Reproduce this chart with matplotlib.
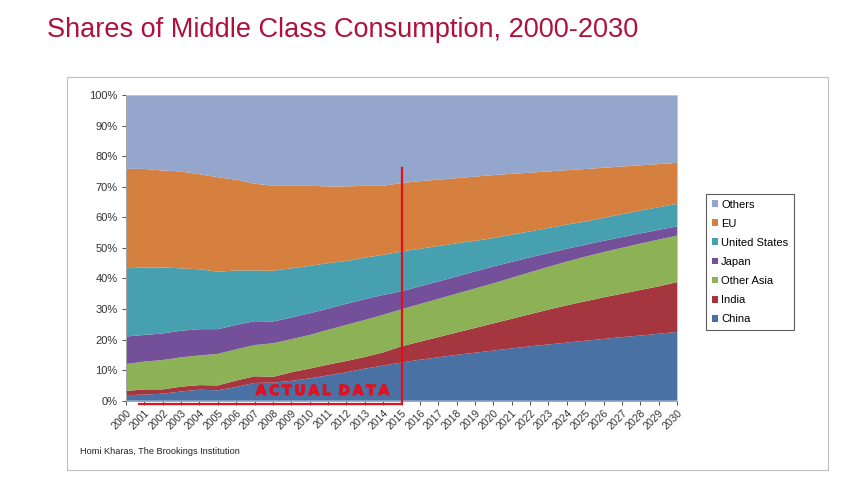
import matplotlib
matplotlib.use("Agg")
import matplotlib.pyplot as plt
from matplotlib.patches import Rectangle, Patch
from matplotlib.ticker import FuncFormatter
import matplotlib.patheffects as pe

years = list(range(2000, 2031))

china = [1.8, 2.0, 2.3, 3.0, 3.6, 3.4, 4.5, 5.8, 5.9, 6.5, 7.3, 8.3, 9.3, 10.5, 11.5, 12.5,
         13.4, 14.2, 15.0, 15.7, 16.4, 17.1, 17.8, 18.4, 19.0, 19.6, 20.2, 20.8, 21.3, 21.9, 22.5]
india = [1.4, 1.7, 1.4, 1.6, 1.5, 1.6, 2.1, 2.2, 1.9, 2.8, 3.2, 3.5, 3.7, 3.8, 4.3, 5.3,
         5.9, 6.6, 7.3, 8.1, 8.9, 9.7, 10.5, 11.4, 12.2, 12.9, 13.6, 14.2, 14.9, 15.5, 16.3]
other_asia = [8.8, 9.1, 9.6, 9.6, 9.7, 10.3, 10.2, 10.2, 11.0, 10.8, 11.0, 11.4, 11.8, 12.1, 12.3, 12.1,
              12.3, 12.5, 12.7, 12.9, 13.1, 13.4, 13.7, 14.0, 14.3, 14.6, 14.8, 15.0, 15.2, 15.3, 15.2]
japan = [9.0, 8.7, 8.7, 8.7, 8.6, 8.1, 8.0, 7.8, 7.1, 7.1, 7.1, 6.9, 6.9, 6.8, 6.5, 5.9,
         5.8, 5.7, 5.6, 5.6, 5.5, 5.2, 4.9, 4.5, 4.2, 3.9, 3.7, 3.5, 3.3, 3.2, 3.0]
united_states = [22.3, 22.1, 21.6, 20.4, 19.6, 18.8, 17.8, 16.6, 16.6, 16.1, 15.5, 14.9, 14.0, 13.6, 13.1, 13.0,
                 12.3, 11.6, 10.9, 10.0, 9.3, 8.9, 8.5, 8.2, 7.9, 7.6, 7.5, 7.5, 7.5, 7.4, 7.4]
eu = [32.6, 32.2, 31.7, 31.7, 31.1, 30.9, 29.7, 28.4, 27.8, 27.0, 26.2, 25.1, 24.4, 23.5, 22.6, 22.4,
      22.1, 21.7, 21.3, 21.0, 20.6, 19.9, 19.2, 18.5, 17.8, 17.2, 16.4, 15.6, 14.8, 14.1, 13.4]
others = [24.1, 24.2, 24.7, 25.0, 25.9, 26.9, 27.7, 29.0, 29.7, 29.7, 29.7, 29.9, 29.9, 29.7, 29.7, 28.8,
          28.2, 27.7, 27.2, 26.7, 26.2, 25.8, 25.4, 25.0, 24.6, 24.2, 23.8, 23.4, 23.0, 22.6, 22.2]

series_names = ["China", "India", "Other Asia", "Japan", "United States", "EU", "Others"]
series_colors = ["#4A71A4", "#A5363F", "#8DB255", "#74509A", "#46A0B0", "#D5803F", "#94A6CB"]
y_ticks = [0, 10, 20, 30, 40, 50, 60, 70, 80, 90, 100]
actual_end_year = 2015
actual_line_top = 76

fig = plt.figure(figsize=(8.49, 4.79), dpi=100)
fig.patch.set_facecolor("white")

# outer chart frame
fig.add_artist(Rectangle((67 / 849, 1 - 470 / 479), (828 - 67) / 849, (470 - 77) / 479,
                         transform=fig.transFigure, fill=False, edgecolor="#BFBFBF", linewidth=0.8))

fig.text(47 / 849, 1 - 30 / 479, "Shares of Middle Class Consumption, 2000-2030",
         color="#B0103E", fontsize=19.5, va="center", ha="left",
         family=["Liberation Sans", "DejaVu Sans"])

ax = fig.add_axes([126 / 849, 1 - 400.7 / 479, (677 - 126) / 849, (400.7 - 95) / 479])
ax.stackplot(years, china, india, other_asia, japan, united_states, eu, others,
             colors=series_colors, labels=series_names, linewidth=0)
ax.set_xlim(2000, 2030)
ax.set_ylim(0, 100)
ax.set_yticks(y_ticks)
ax.yaxis.set_major_formatter(FuncFormatter(lambda v, p: f"{int(v)}%"))
ax.set_xticks(years)
ax.set_xticklabels([str(y) for y in years], rotation=45, ha="right", rotation_mode="anchor")
ax.tick_params(axis="both", colors="#333333", length=3, width=0.6)
ax.tick_params(axis="x", labelsize=7.5, direction="out", pad=2)
ax.tick_params(axis="y", labelsize=8, pad=3)
for lab in ax.get_xticklabels() + ax.get_yticklabels():
    lab.set_family(["Liberation Sans", "DejaVu Sans"])
for s in ax.spines.values():
    s.set_color("#A6A6A6")
    s.set_linewidth(0.7)
ax.spines["top"].set_color("#C8C8C8")
ax.spines["right"].set_color("#C8C8C8")

# "actual data" bracket
ax.plot([2000.7, actual_end_year, actual_end_year], [-1.1, -1.1, actual_line_top],
        color="#E0101E", linewidth=1.6, clip_on=False, zorder=5)
ts = "\u2009"
ax.text(2010.7, 3.2, ts.join("ACTUAL") + " " + ts + ts.join("DATA"), color="#E0101E", fontsize=10,
        fontweight="bold", ha="center", va="center", zorder=6,
        family=["DejaVu Sans"],
        path_effects=[pe.withStroke(linewidth=0.7, foreground="#E0101E")])

# legend
handles = [Patch(facecolor=c, edgecolor="none") for c in series_colors][::-1]
labels = series_names[::-1]
leg = fig.legend(handles, labels, loc="upper left",
                 bbox_to_anchor=(706 / 849, 1 - 194 / 479),
                 frameon=True, fancybox=False,
                 handlelength=0.55, handleheight=0.55, handletextpad=0.3,
                 labelspacing=0.82, borderpad=0.5, borderaxespad=0,
                 prop={"family": ["Liberation Sans", "DejaVu Sans"], "size": 8})
leg.get_frame().set_edgecolor("#333333")
leg.get_frame().set_linewidth(0.8)

fig.text(80 / 849, 1 - 452 / 479, "Homi Kharas, The Brookings Institution",
         fontsize=6.6, color="#222222", va="center", ha="left",
         family=["Liberation Sans", "DejaVu Sans"])

fig.savefig("out.png", dpi=100, facecolor="white")
